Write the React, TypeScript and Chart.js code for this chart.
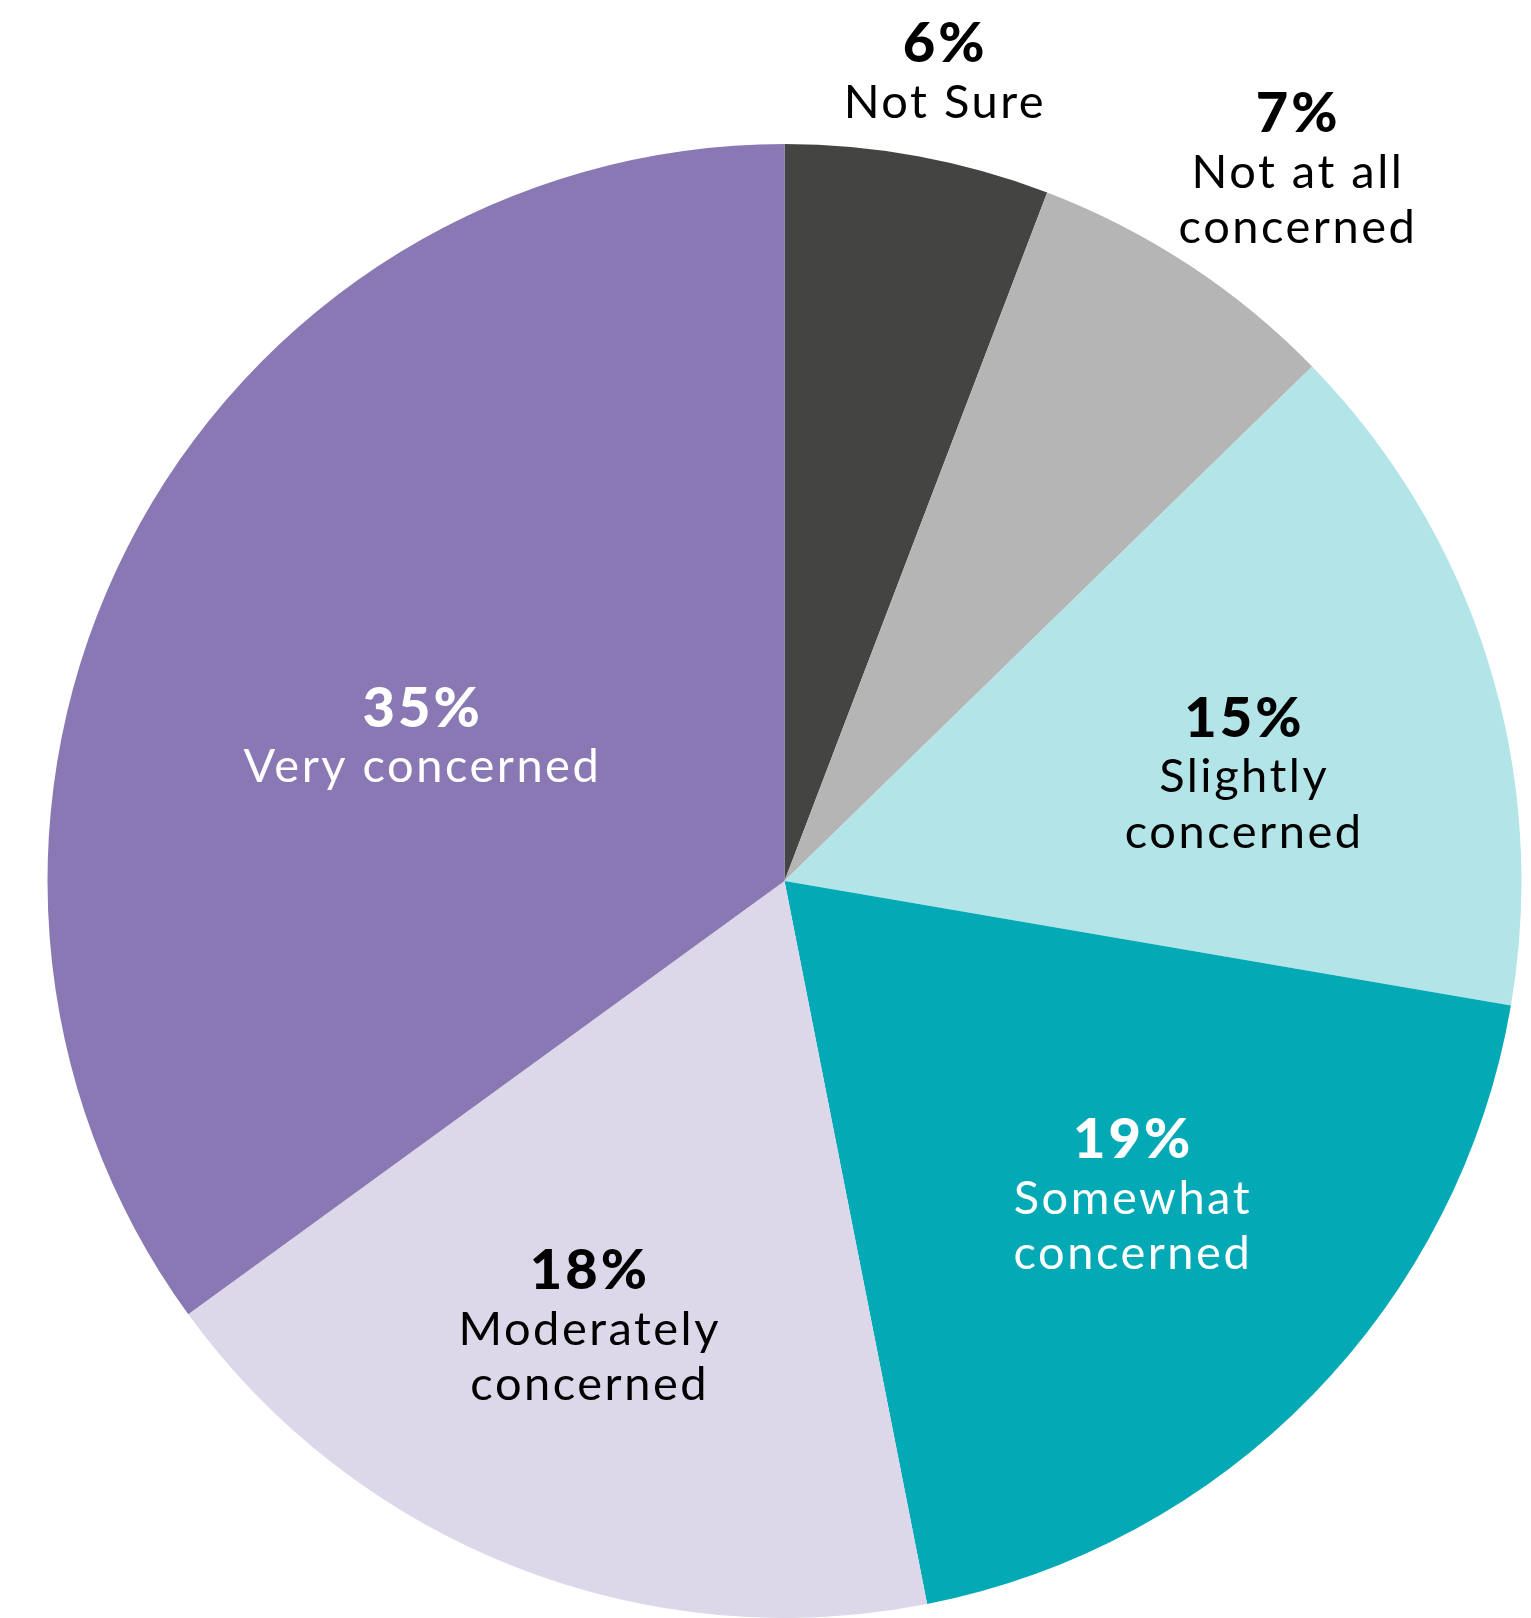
import React, { useEffect, useRef } from "react";
import { Chart, registerables } from "chart.js";

Chart.register(...registerables);

const categories = [
  "Not Sure",
  "Not at all concerned",
  "Slightly concerned",
  "Somewhat concerned",
  "Moderately concerned",
  "Very concerned",
];
const values = [5.8, 6.9, 15.0, 19.2, 18.1, 35.0];
const sliceColors = ["#444443", "#b5b5b5", "#b3e5e8", "#03a9b5", "#dcd8e9", "#8a78b4"];
const labelLines = [
  ["Not Sure"],
  ["Not at all", "concerned"],
  ["Slightly", "concerned"],
  ["Somewhat", "concerned"],
  ["Moderately", "concerned"],
  ["Very concerned"],
];
const labelColors = ["#000000", "#000000", "#000000", "#ffffff", "#000000", "#ffffff"];
// label anchor (first baseline) relative to pie centre, in units of radius
const labelOffsets = [
  [0.216, -1.111],
  [0.695, -1.016],
  [0.622, -0.196],
  [0.471, 0.376],
  [-0.266, 0.554],
  [-0.493, -0.209],
];

const FONT = "Lato, 'Open Sans', sans-serif";

const labelPlugin = {
  id: "sliceLabels",
  afterDraw(chart: any) {
    const ctx = chart.ctx;
    const meta = chart.getDatasetMeta(0);
    const arc = meta.data[0];
    if (!arc) return;
    const cx = arc.x;
    const cy = arc.y;
    const r = arc.outerRadius;
    const lh = 55.5;
    ctx.save();
    ctx.textAlign = "center";
    ctx.textBaseline = "alphabetic";
    values.forEach((v, i) => {
      const x = cx + labelOffsets[i][0] * r;
      const y = cy + labelOffsets[i][1] * r;
      ctx.fillStyle = labelColors[i];
      ctx.font = `900 56px ${FONT}`;
      (ctx as any).letterSpacing = "3px";
      ctx.fillText(`${Math.round(v)}%`, x + 1.5, y);
      ctx.font = `400 47px ${FONT}`;
      (ctx as any).letterSpacing = "2.5px";
      labelLines[i].forEach((line, j) => {
        ctx.fillText(line, x + 1.25, y + lh * (j + 1));
      });
    });
    (ctx as any).letterSpacing = "0px";
    ctx.restore();
  },
};

export default function App() {
  const ref = useRef<HTMLCanvasElement | null>(null);
  useEffect(() => {
    if (!ref.current) return;
    const chart = new Chart(ref.current, {
      type: "pie",
      data: {
        labels: categories,
        datasets: [
          {
            data: values,
            backgroundColor: sliceColors,
            borderWidth: 0,
          },
        ],
      },
      options: {
        responsive: false,
        animation: false,
        layout: { padding: { left: 47, right: 9, top: 144, bottom: -1 } },
        plugins: {
          legend: { display: false },
          tooltip: { enabled: false },
        },
      },
      plugins: [labelPlugin],
    });
    return () => chart.destroy();
  }, []);
  return (
    <div
      style={{
        position: "fixed",
        left: 0,
        top: 0,
        width: 1531,
        height: 1618,
        background: "#ffffff",
        overflow: "hidden",
      }}
    >
      <canvas ref={ref} width={1531} height={1618} style={{ width: 1531, height: 1618 }} />
    </div>
  );
}
